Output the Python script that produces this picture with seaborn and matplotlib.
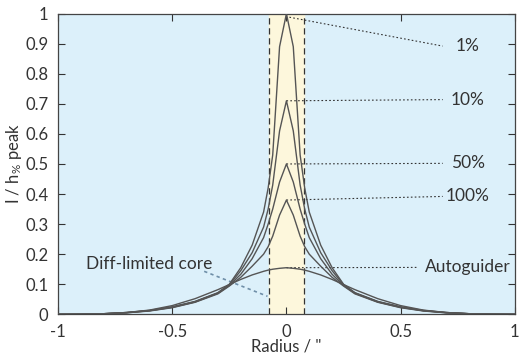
import numpy as np
import pandas as pd
import matplotlib
matplotlib.use("Agg")
import matplotlib.pyplot as plt
import seaborn as sns

# half-profiles (radius >= 0), mirrored below
radius_half = [0.0, 0.03, 0.06, 0.08, 0.10, 0.15, 0.20, 0.25, 0.30,
               0.40, 0.50, 0.60, 0.70, 0.80, 0.90, 1.00]
profile_1pct = [1.00, 0.89, 0.53, 0.42, 0.34, 0.23, 0.155, 0.100, 0.072,
                0.043, 0.025, 0.013, 0.006, 0.002, 0.0005, 0.0]
profile_10pct = [0.71, 0.61, 0.43, 0.35, 0.29, 0.205, 0.145, 0.098, 0.071,
                 0.042, 0.024, 0.012, 0.006, 0.002, 0.0005, 0.0]
profile_50pct = [0.50, 0.44, 0.35, 0.30, 0.255, 0.185, 0.133, 0.096, 0.070,
                 0.041, 0.023, 0.012, 0.005, 0.002, 0.0005, 0.0]
profile_100pct = [0.38, 0.33, 0.26, 0.225, 0.200, 0.160, 0.123, 0.094, 0.068,
                  0.040, 0.022, 0.011, 0.005, 0.0015, 0.0005, 0.0]
profile_autoguider = [0.155, 0.153, 0.150, 0.147, 0.143, 0.131, 0.116, 0.099, 0.082,
                      0.052, 0.029, 0.014, 0.006, 0.002, 0.0005, 0.0]

profile_names = ["1%", "10%", "50%", "100%", "Autoguider"]
label_y = [0.892, 0.714, 0.502, 0.392, 0.156]
core_edges = [-0.078, 0.075]

xticks = [-1, -0.5, 0, 0.5, 1]
yticks = [0, 0.1, 0.2, 0.3, 0.4, 0.5, 0.6, 0.7, 0.8, 0.9, 1]

FS = 12

sns.set_style("ticks")
plt.rcParams["font.family"] = ["Lato", "DejaVu Sans"]
plt.rcParams["mathtext.default"] = "regular"

# build long table
half = np.array(radius_half)
radius_full = np.concatenate([-half[:0:-1], half])
rows = []
for name, prof in zip(profile_names, [profile_1pct, profile_10pct, profile_50pct,
                                      profile_100pct, profile_autoguider]):
    p = np.array(prof)
    vals = np.concatenate([p[:0:-1], p])
    for r, v in zip(radius_full, vals):
        rows.append({"radius": r, "intensity": v, "profile": name})
df = pd.DataFrame(rows)

fig = plt.figure(figsize=(5.27, 3.58), dpi=100)
ax = fig.add_axes([0.110, 0.122, 0.867, 0.840])
ax.set_facecolor("#dcf0fa")

ax.axvspan(core_edges[0], core_edges[1], color="#fdf7dc", zorder=0)
for xe in core_edges:
    ax.axvline(xe, color="#333333", lw=0.9, ls=(0, (5, 3)), zorder=1)

sns.lineplot(data=df, x="radius", y="intensity", units="profile",
             estimator=None, color="#555555", lw=1.0, ax=ax,
             legend=False, zorder=3)

# leader lines + labels
peak_vals = [profile_1pct[0], profile_10pct[0], profile_50pct[0],
             profile_100pct[0], profile_autoguider[0]]
label_x = 0.795
for i, (name, pk, ly) in enumerate(zip(profile_names, peak_vals, label_y)):
    x_end = 0.575 if name == "Autoguider" else 0.684
    x_start = 0.013 if i == 0 else 0.0
    y_start = 0.988 if i == 0 else pk
    ax.plot([x_start, x_end], [y_start, ly], color="#333333", lw=0.8,
            ls=(0, (1.5, 2)), zorder=2)
    ax.text(label_x, ly, name, ha="center", va="center",
            fontsize=FS + 0.5, color="#333333")

ax.plot([-0.36, -0.083], [0.143, 0.06], color="#6f8fa8", lw=1.2,
        ls=(0, (2, 2)), zorder=2)
ax.text(-0.599, 0.169, "Diff-limited core", ha="center", va="center",
        fontsize=FS + 0.5, color="#333333")

ax.set_xlim(-1, 1)
ax.set_ylim(0, 1)
ax.set_xticks(xticks)
ax.set_yticks(yticks)
ax.set_xticklabels([f"{t:g}" for t in xticks])
ax.set_yticklabels([f"{t:g}" for t in yticks])
ax.tick_params(direction="in", top=True, right=True, length=5, width=0.8,
               labelsize=FS, colors="#333333")
ax.tick_params(axis="x", pad=7)
ax.tick_params(axis="y", pad=7)
for s in ax.spines.values():
    s.set_color("#444444")
    s.set_linewidth(0.9)

ax.set_xlabel('Radius / "', fontsize=FS, color="#333333")
ax.set_ylabel("I / h$_{\\%}$ peak", fontsize=FS, color="#333333")
ax.xaxis.set_label_coords(0.5, -0.108, transform=ax.transAxes)
ax.yaxis.set_label_coords(-0.097, 0.5, transform=ax.transAxes)
ax.xaxis.label.set_va("center")
ax.yaxis.label.set_va("center")

fig.savefig("out.png", dpi=100)
